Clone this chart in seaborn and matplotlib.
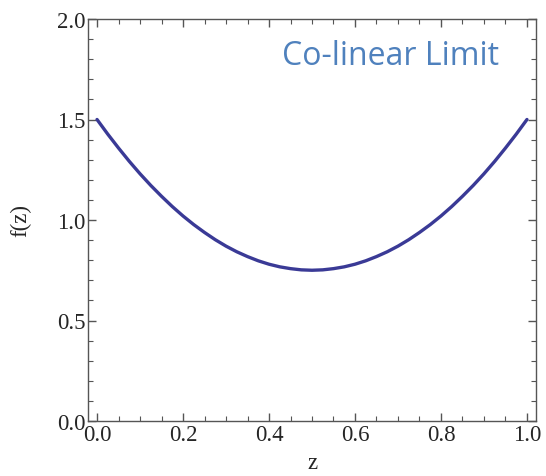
import matplotlib
matplotlib.use("Agg")
import matplotlib.pyplot as plt
from matplotlib.ticker import MultipleLocator
import seaborn as sns

# values
z = [0.0, 0.025, 0.05, 0.075, 0.1, 0.125, 0.15, 0.175, 0.2, 0.225, 0.25,
     0.275, 0.3, 0.325, 0.35, 0.375, 0.4, 0.425, 0.45, 0.475, 0.5,
     0.525, 0.55, 0.575, 0.6, 0.625, 0.65, 0.675, 0.7, 0.725, 0.75,
     0.775, 0.8, 0.825, 0.85, 0.875, 0.9, 0.925, 0.95, 0.975, 1.0]
fz = [1.5, 1.427, 1.358, 1.292, 1.23, 1.172, 1.118, 1.067, 1.02, 0.977, 0.938,
      0.902, 0.87, 0.842, 0.818, 0.797, 0.78, 0.767, 0.758, 0.752, 0.75,
      0.752, 0.758, 0.767, 0.78, 0.797, 0.818, 0.842, 0.87, 0.902, 0.938,
      0.977, 1.02, 1.067, 1.118, 1.172, 1.23, 1.292, 1.358, 1.427, 1.5]
x_ticks = [0.0, 0.2, 0.4, 0.6, 0.8, 1.0]
y_ticks = [0.0, 0.5, 1.0, 1.5, 2.0]

sns.set_style("ticks")
plt.rcParams['font.family'] = ['Liberation Serif', 'DejaVu Serif']

fig = plt.figure(figsize=(5.46, 4.77), dpi=100)
ax = fig.add_axes([88 / 546, 1 - 422 / 477, 448 / 546, 402 / 477])

sns.lineplot(x=z, y=fz, ax=ax, color='#3a3a96', linewidth=2.4)

ax.set_xlim(-0.021, 1.021)
ax.set_ylim(0, 2.0)
ax.set_xticks(x_ticks)
ax.set_yticks(y_ticks)
ax.set_xticklabels([f"{v:.1f}" for v in x_ticks])
ax.set_yticklabels([f"{v:.1f}" for v in y_ticks])
ax.xaxis.set_minor_locator(MultipleLocator(0.05))
ax.yaxis.set_minor_locator(MultipleLocator(0.1))
ax.tick_params(which='both', direction='in', top=True, right=True, color='#555555')
ax.tick_params(which='major', length=6, width=1, labelsize=16.5, pad=2)
ax.tick_params(which='minor', length=3.5, width=0.8)
for s in ax.spines.values():
    s.set_color('#555555')
    s.set_linewidth(1)

ax.set_xlabel('z', fontsize=16.5, labelpad=5)
ax.set_ylabel('f(z)', fontsize=16.5, labelpad=18)

ax.text(0.918, 0.91, 'Co-linear Limit', transform=ax.transAxes, ha='right', va='center',
        fontsize=23, color='#4f81bd', family=['Open Sans', 'DejaVu Sans'])

fig.savefig('out.png', dpi=100)
